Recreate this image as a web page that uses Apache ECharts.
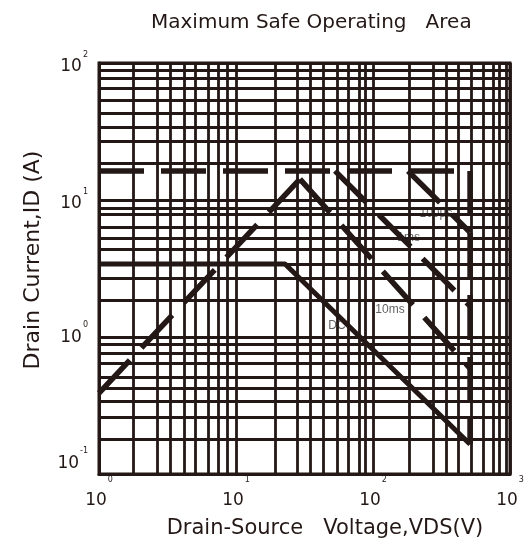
<!DOCTYPE html>
<html><head><meta charset="utf-8">
<script src="https://cdn.jsdelivr.net/npm/echarts@6/dist/echarts.min.js"></script>
<style>html,body{margin:0;padding:0;background:#fff}#c{width:528px;height:546px}</style>
</head><body><div id="c"></div>
<script>
// ---- data ----
const xDecadeTicks = [1, 10, 100, 1000];
const yDecadeTicks = [0.1, 1, 10, 100];
const xGridLines = [1.77, 2.65, 3.30, 4.17, 5.02, 6.25, 7.39, 8.60,
                    19.3, 27.9, 34.7, 43.1, 54.6, 65.7, 79, 87.4,
                    183, 274, 341, 417, 519, 635, 750, 830, 935];
const yGridLines = [0.183, 0.261, 0.341, 0.425, 0.511, 0.635, 0.764, 0.875,
                    1.86, 2.70, 3.41, 4.39, 5.28, 6.35, 7.91, 8.75,
                    18.6, 27.0, 34.1, 43.2, 53.7, 65.7, 77.7, 88.9];
const currentLimit = [[1, 16.3], [431, 16.3]];
const rdsLimit = [[1, 0.39], [29.3, 14.2]];
const pulse10ms = [[29.3, 14.2], [511, 0.59]];
const pulse1ms = [[52.8, 16.3], [511, 1.68]];
const pulse100us = [[180, 16.3], [511, 5.8]];
const dcLine = [[1, 3.41], [22.8, 3.41], [511, 0.165]];
const vdsLimit = [[511, 16.3], [511, 0.165]];
const noteText = ['100µs', '1ms', '10ms', 'DC'];
const noteX = [288, 182, 133, 54.6];
const noteY = [8.0, 5.28, 1.57, 1.20];

// ---- chart ----
const INK = '#231815';
const FONT = 'DejaVu Sans, Liberation Sans, Arial, sans-serif';
const chart = echarts.init(document.getElementById('c'), null, {renderer: 'canvas'});

function exponentOf(v) { return Math.round(Math.log10(v)); }
// x labels: "10" with a raised exponent
const richX = {
  b: {fontSize: 17, fontFamily: FONT, color: INK, lineHeight: 50},
  s: {fontSize: 8, fontFamily: FONT, color: INK, lineHeight: 9, verticalAlign: 'top', padding: [0, 0, 0, 1]}
};
// y labels: "10" with a raised exponent; an optional second (blank) line nudges
// the lower labels upward the way they sit in the reference
const richY = {
  b: {fontSize: 17, fontFamily: FONT, color: INK, lineHeight: 25, verticalAlign: 'bottom'},
  s: {fontSize: 8, fontFamily: FONT, color: INK, lineHeight: 9, verticalAlign: 'top', padding: [0, 0, 0, 1]},
  p1: {fontSize: 1, lineHeight: 7},
  p2: {fontSize: 1, lineHeight: 29}
};
const yNudge = {'2': '', '1': '', '0': '\n{p1| }', '-1': '\n{p2| }'};

const dashed = [45, 17];
function limitSeries(name, data, type, width) {
  return {
    name, type: 'line', data, z: 5, symbol: 'none', silent: true, animation: false,
    lineStyle: {color: INK, width: width, type: type, cap: 'butt'}
  };
}

const option = {
  backgroundColor: '#fff',
  animation: false,
  title: {
    text: 'Maximum Safe Operating   Area',
    left: 146, top: 8,
    textStyle: {fontFamily: FONT, fontSize: 20, fontWeight: 'normal', color: INK}
  },
  grid: {left: 99, top: 63, right: 18, bottom: 72, show: true, borderColor: INK, borderWidth: 3,
         outerBoundsMode: 'none', containLabel: false},
  xAxis: {
    type: 'log', logBase: 10, min: 1, max: 1000,
    name: 'Drain-Source   Voltage,VDS(V)', nameLocation: 'middle', nameGap: 44,
    nameTextStyle: {fontFamily: FONT, fontSize: 21, color: INK, padding: [0, 0, 0, 41]},
    axisLine: {show: true, lineStyle: {color: INK, width: 3}},
    axisTick: {show: false},
    splitLine: {show: true, lineStyle: {color: INK, width: 2.8}},
    axisLabel: {formatter: v => '{b|10}{s|' + exponentOf(v) + '}', rich: richX, margin: 2, color: INK}
  },
  yAxis: {
    type: 'log', logBase: 10, min: 0.1, max: 100,
    name: 'Drain Current,ID (A)', nameLocation: 'middle', nameGap: 55,
    nameTextStyle: {fontFamily: FONT, fontSize: 22, color: INK, padding: [0, 0, 0, 17]},
    axisLine: {show: true, lineStyle: {color: INK, width: 3}},
    axisTick: {show: false},
    splitLine: {show: true, lineStyle: {color: INK, width: 2.8}},
    axisLabel: {
      formatter: v => { const e = exponentOf(v); return '{b|10}{s|' + e + '}' + yNudge[String(e)]; },
      rich: richY, margin: 11, color: INK
    }
  },
  series: [
    {
      name: 'notes', type: 'scatter', z: 1, symbolSize: 0, silent: true,
      data: noteX.map((x, i) => ({value: [x, noteY[i]], label: {formatter: noteText[i]}})),
      label: {show: true, position: 'inside', fontFamily: 'Liberation Sans, Arial, sans-serif', fontSize: 12, color: '#3a3a3a'}
    },
    {
      name: 'grid', type: 'line', z: 2, data: [], silent: true, symbol: 'none',
      markLine: {
        silent: true, symbol: ['none', 'none'], animation: false,
        label: {show: false}, emphasis: {disabled: true},
        lineStyle: {color: INK, width: 2.8, type: 'solid'},
        data: xGridLines.map(v => ({xAxis: v})).concat(yGridLines.map(v => ({yAxis: v})))
      }
    },
    limitSeries('ID limit', currentLimit, dashed, 5.5),
    limitSeries('RDS(on) limit', rdsLimit, dashed, 5.5),
    limitSeries('10ms', pulse10ms, dashed, 5.5),
    limitSeries('1ms', pulse1ms, dashed, 5.5),
    limitSeries('100us', pulse100us, dashed, 5.5),
    limitSeries('VDS limit', vdsLimit, dashed, 5.5),
    limitSeries('DC', dcLine, 'solid', 5)
  ]
};
chart.setOption(option);
</script>
</body></html>
